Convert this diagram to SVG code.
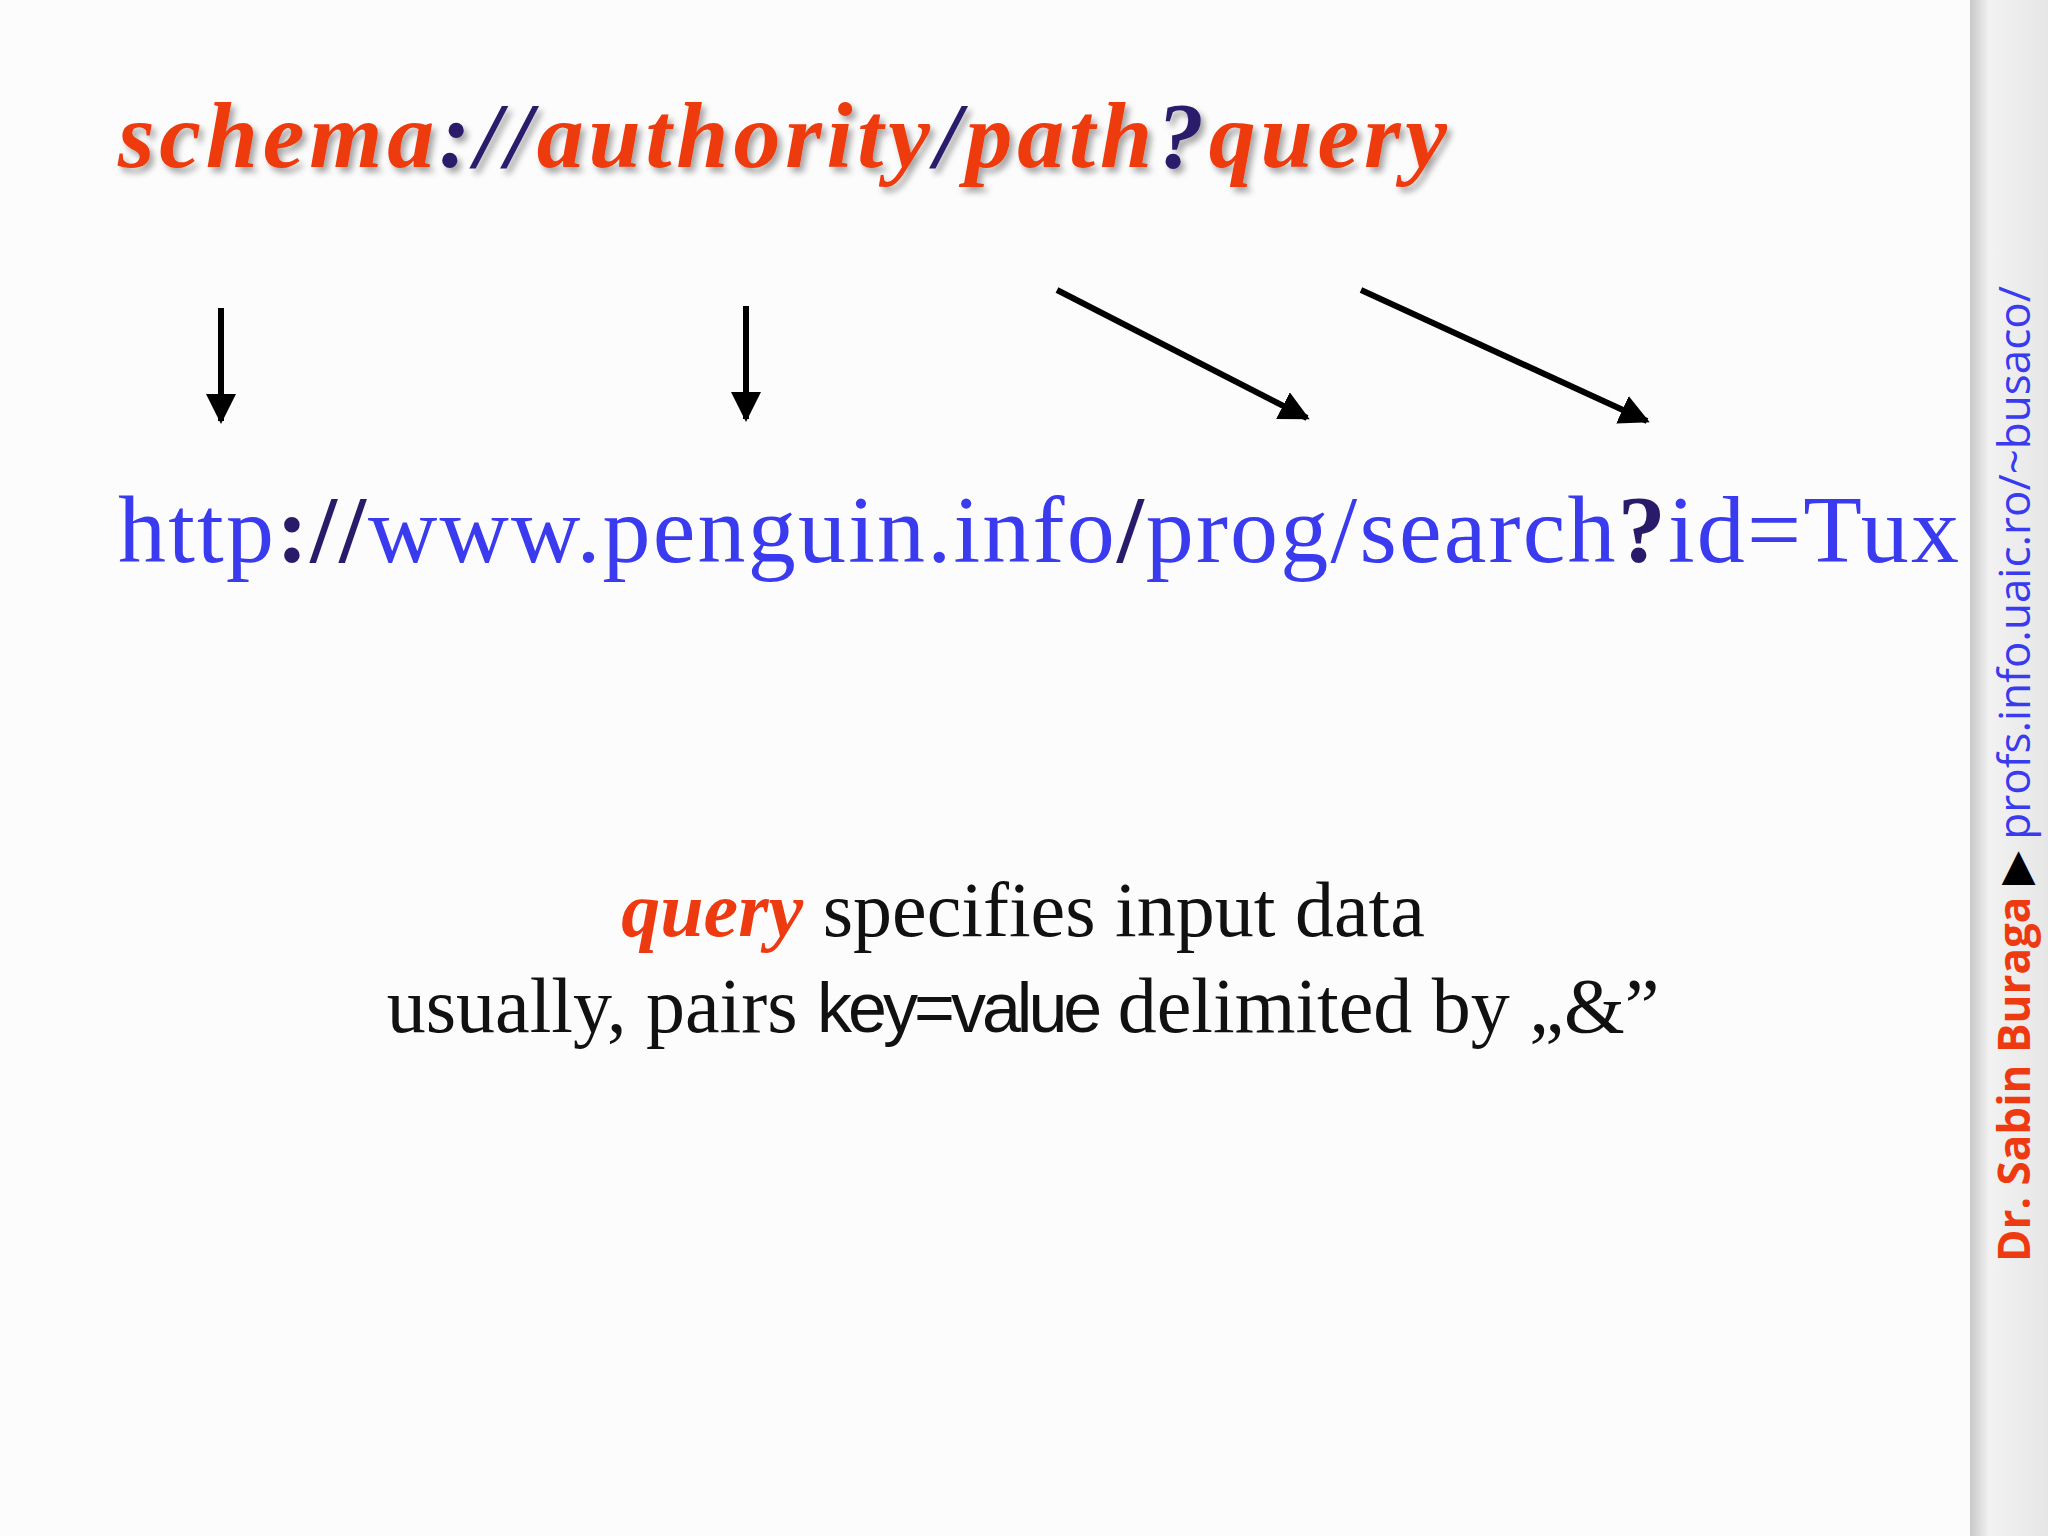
<svg xmlns="http://www.w3.org/2000/svg" width="2048" height="1536" viewBox="0 0 2048 1536">
<defs>
<linearGradient id="side" x1="0" y1="0" x2="1" y2="0"><stop offset="0" stop-color="#c8c8c8"/><stop offset="0.25" stop-color="#f2f2f2"/><stop offset="1" stop-color="#e6e6e6"/></linearGradient>
<filter id="sh" x="-5%" y="-20%" width="110%" height="150%"><feDropShadow dx="4" dy="5" stdDeviation="3" flood-color="#000" flood-opacity="0.35"/></filter>
<marker id="ah" viewBox="0 0 10 10" refX="9" refY="5" markerWidth="5" markerHeight="5" orient="auto"><path d="M0,0 L10,5 L0,10 z" fill="#000"/></marker>
<style>
.t{font-family:"Liberation Serif",serif;font-weight:bold;font-style:italic;font-size:94px}
.o{fill:#ee3a10}.p{fill:#2a1a6a}
.u{font-family:"Liberation Serif",serif;font-size:96px;fill:#3a3aee}
.b{font-family:"Liberation Serif",serif;font-size:78px;fill:#111}
.a{stroke:#000;stroke-width:6;fill:none;marker-end:url(#ah)}
</style>
</defs>
<rect width="2048" height="1536" fill="#fcfcfc"/>
<rect x="1970" y="0" width="78" height="1536" fill="url(#side)"/>
<g id="title"><text class="t" x="118" y="167" filter="url(#sh)" textLength="1329"><tspan class="o">schema</tspan><tspan class="p">://</tspan><tspan class="o">authority</tspan><tspan class="p">/</tspan><tspan class="o">path</tspan><tspan class="p">?</tspan><tspan class="o">query</tspan></text></g>
<g id="connectors">
<line class="a" x1="221" y1="308" x2="221" y2="421"/>
<line class="a" x1="746" y1="306" x2="746" y2="419"/>
<line class="a" x1="1057" y1="290" x2="1307" y2="418"/>
<line class="a" x1="1361" y1="290" x2="1647" y2="421"/>
</g>
<g id="url"><text class="u" x="118" y="562" textLength="1841">http<tspan class="p" font-weight="bold">://</tspan>www.penguin.info<tspan class="p" font-weight="bold">/</tspan>prog/search<tspan class="p" font-weight="bold">?</tspan>id=Tux</text></g>
<g id="desc">
<text class="b" x="1023" y="936" text-anchor="middle"><tspan class="o" font-weight="bold" font-style="italic">query</tspan> specifies input data</text>
<text class="b" x="1023" y="1032" text-anchor="middle">usually, pairs <tspan font-family="Liberation Sans,sans-serif" font-size="70" letter-spacing="-4">key=value</tspan> delimited by „&amp;”</text>
</g>
<g id="sidebar"><text transform="translate(2030,1262) rotate(-90)" font-family="Open Sans,sans-serif" font-size="44"><tspan fill="#ee3a10" font-weight="bold">Dr. Sabin Buraga</tspan><tspan fill="#000"> ▶ </tspan><tspan fill="#3a3aee">profs.info.uaic.ro/~busaco/</tspan></text></g>
</svg>
